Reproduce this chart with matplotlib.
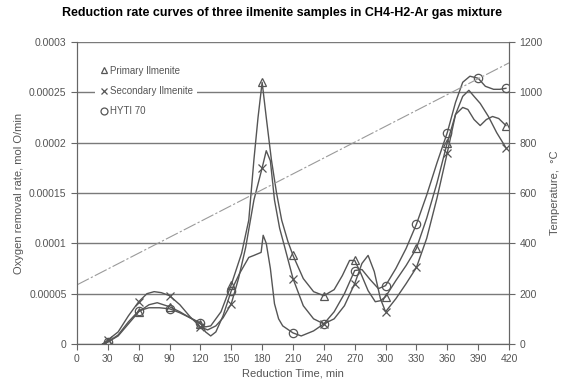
import matplotlib
matplotlib.use("Agg")
import matplotlib.pyplot as plt

plt.rcParams['font.family'] = ['Liberation Sans', 'DejaVu Sans']

# ---- data (rate values in 1e-5 mol O/min) ----
prim_t = [25, 30, 40, 50, 60, 70, 78, 90, 100, 110, 120, 125, 130, 140, 150, 160, 167, 172, 176, 180,
          184, 189, 194, 199, 205, 210, 220, 230, 240, 250, 258, 265, 270, 276, 283, 290, 295, 300,
          310, 320, 330, 340, 350, 360, 368, 375, 380, 386, 392, 398, 404, 410, 417]
prim_v = [0, 0.2, 0.8, 2.0, 3.2, 3.9, 4.1, 3.7, 3.2, 2.6, 2.0, 1.7, 1.8, 3.2, 5.9, 9.0, 12.3, 18.3, 22.5, 26.0,
          22.5, 18.3, 15.0, 12.3, 10.2, 8.8, 6.5, 5.2, 4.8, 5.4, 6.8, 8.3, 8.3, 7.0, 5.3, 4.2, 4.3, 4.7,
          6.3, 7.8, 9.5, 12.5, 16.0, 20.0, 22.8, 23.5, 23.3, 22.3, 21.7, 22.3, 22.6, 22.4, 21.7]

sec_t = [25, 30, 40, 50, 60, 68, 75, 82, 90, 100, 110, 120, 127, 135, 142, 150, 157, 164, 172, 180,
         184, 188, 192, 197, 202, 210, 220, 230, 240, 250, 260, 270, 277, 283, 289, 295, 300,
         310, 320, 330, 340, 350, 360, 368, 375, 381, 386, 392, 400, 408, 417]
sec_v = [0, 0.4, 1.2, 2.8, 4.2, 5.0, 5.2, 5.1, 4.8, 3.9, 2.7, 1.7, 1.4, 1.8, 2.6, 4.0, 6.5, 9.6, 14.3, 17.5,
         19.2, 18.2, 14.3, 11.5, 9.6, 6.5, 3.8, 2.5, 2.0, 2.5, 3.8, 6.0, 8.0, 8.8, 7.2, 4.5, 3.2,
         4.5, 6.0, 7.6, 10.5, 14.5, 19.0, 22.8, 24.6, 25.2, 24.6, 23.9, 22.6, 21.0, 19.5]

hyti_t = [25, 30, 40, 50, 60, 70, 80, 90, 100, 110, 120, 125, 130, 135, 142, 150, 158, 167, 172, 179,
          181, 184, 188, 192, 196, 200, 210, 218, 230, 240, 250, 260, 270, 277, 285, 293, 300,
          310, 320, 330, 340, 350, 360, 368, 375, 382, 390, 397, 405, 411, 417]
hyti_v = [0, 0.2, 0.9, 2.2, 3.3, 3.6, 3.6, 3.5, 3.1, 2.6, 2.1, 1.2, 0.8, 1.2, 2.8, 5.3, 7.0, 8.6, 8.8, 9.1,
          10.8, 10.0, 7.5, 4.0, 2.5, 1.8, 1.1, 0.8, 1.3, 2.0, 3.2, 5.0, 7.3, 7.4, 6.4, 5.5, 5.8,
          7.5, 9.5, 11.9, 14.8, 18.0, 21.0, 24.0, 26.0, 26.6, 26.4, 25.6, 25.3, 25.3, 25.4]

marker_times = [30, 60, 90, 120, 150, 180, 210, 240, 270, 300, 330, 360, 390, 417]

temp_t = [0, 420]
temp_v = [235, 1117]

labels = ["Primary Ilmenite", "Secondary Ilmenite", "HYTI 70"]
title = "Reduction rate curves of three ilmenite samples in CH4-H2-Ar gas mixture"

# ---- figure ----
fig = plt.figure(figsize=(5.63, 3.92), dpi=100)
ax = fig.add_axes([77/563, 1-344/392, (509-77)/563, (344-42)/392])
ax2 = ax.twinx()

lc = '#555555'
gc = '#7a7a7a'
tc = '#555555'

ax.set_xlim(0, 420)
ax.set_ylim(0, 0.0003)
ax2.set_ylim(0, 1200)

yt = [0, 0.00005, 0.0001, 0.00015, 0.0002, 0.00025, 0.0003]
ax.set_yticks(yt)
ax.set_yticklabels(['0', '0.00005', '0.0001', '0.00015', '0.0002', '0.00025', '0.0003'])
ax.set_xticks(range(0, 421, 30))
ax2.set_yticks(range(0, 1201, 200))

ax.yaxis.grid(True, color=gc, lw=1.0)
ax.set_axisbelow(True)

ax2.plot(temp_t, temp_v, color='#9a9a9a', lw=0.8, ls=(0, (12, 2, 2, 2)))

def me(ts):
    return [i for i, t in enumerate(ts) if t in marker_times]

series = [
    (prim_t, prim_v, '^', labels[0]),
    (sec_t, sec_v, 'x', labels[1]),
    (hyti_t, hyti_v, 'o', labels[2]),
]
handles = []
for ts, vs, mk, lab in series:
    ax.plot(ts, [v * 1e-5 for v in vs], color=lc, lw=1.0, marker=mk, markevery=me(ts),
            ms=6, mfc='none', mec=lc, mew=0.9, zorder=3)
    h, = ax.plot([], [], ls='none', marker=mk, ms=5, mfc='none', mec=lc, mew=0.9, label=lab)
    handles.append(h)

leg = ax.legend(handles=handles, loc='upper left', bbox_to_anchor=(0.03, 0.95),
                fontsize=7, frameon=True, facecolor='white', edgecolor='white', framealpha=1,
                handletextpad=0.2, handlelength=1.0, labelspacing=1.05, borderpad=0.4,
                labelcolor=tc)
leg.get_frame().set_linewidth(0)

for a in (ax, ax2):
    for s in a.spines.values():
        s.set_color('#666666')
    a.spines['top'].set_visible(False)
ax.tick_params(axis='both', labelsize=7.5, colors='#666666', labelcolor=tc, length=4, direction='out')
ax2.tick_params(axis='y', labelsize=7.5, colors='#666666', labelcolor=tc, length=4, direction='out')

ax.set_xlabel("Reduction Time, min", fontsize=8, color=tc, labelpad=3)
ax.set_ylabel("Oxygen removal rate, mol O/min", fontsize=8, color=tc, labelpad=4)
ax2.set_ylabel("Temperature,  °C", fontsize=8, color=tc, labelpad=5)

fig.text(0.5, 1 - 13/392, title, ha='center', va='center', fontsize=9, fontweight='bold')

fig.savefig("out.png", dpi=100)
